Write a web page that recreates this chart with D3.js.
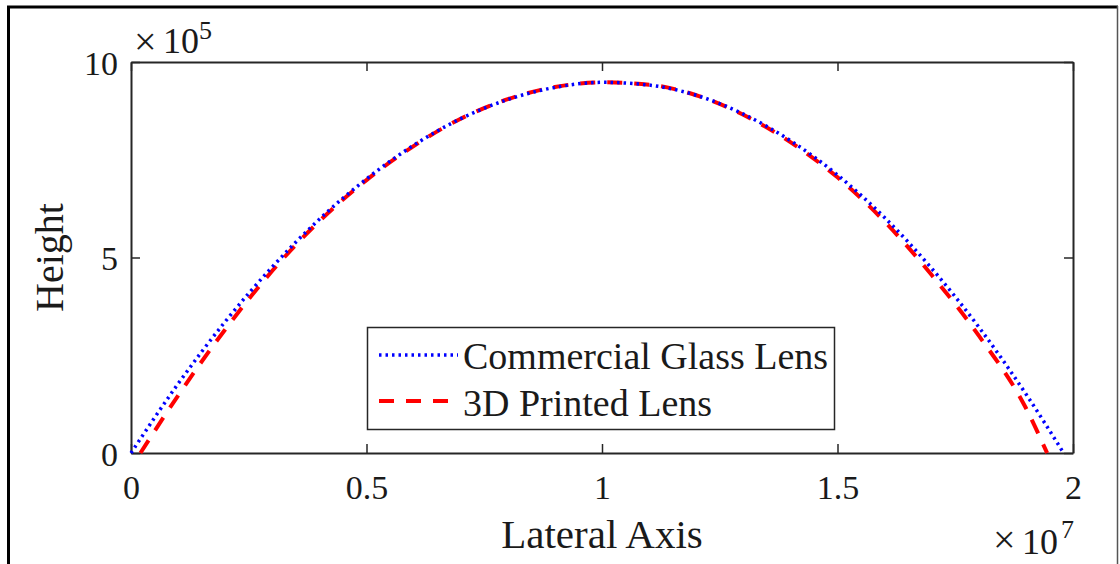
<!DOCTYPE html>
<html><head><meta charset="utf-8">
<script src="https://cdn.jsdelivr.net/npm/d3@7"></script>
<style>html,body{margin:0;padding:0;background:#fff;} svg{display:block;font-family:"Liberation Serif","Times New Roman",serif;}</style>
</head><body>
<svg id="c" width="1120" height="564"></svg>
<script>
// x in units of 1e7, y in units of 1e5
const glassX = [0, 0.1, 0.2, 0.3, 0.4, 0.5, 0.6, 0.7, 0.8, 0.9, 1.0, 1.1, 1.2, 1.3, 1.4, 1.5, 1.6, 1.7, 1.8, 1.9, 1.98];
const glassY = [0, 1.77, 3.36, 4.76, 5.98, 7.01, 7.87, 8.55, 9.04, 9.35, 9.48, 9.41, 9.15, 8.67, 7.99, 7.11, 6.02, 4.72, 3.22, 1.51, 0];
const printedX = [0.02, 0.1, 0.2, 0.3, 0.4, 0.5, 0.6, 0.7, 0.8, 0.9, 1.0, 1.1, 1.2, 1.3, 1.4, 1.5, 1.6, 1.7, 1.8, 1.9, 1.945];
const printedY = [0, 1.47, 3.16, 4.66, 5.93, 6.98, 7.85, 8.55, 9.05, 9.36, 9.48, 9.42, 9.15, 8.65, 7.95, 7.05, 5.92, 4.55, 3.0, 1.15, 0];
const xTicks = [0, 0.5, 1, 1.5, 2];
const yTicks = [0, 5, 10];
const seriesNames = ["Commercial Glass Lens", "3D Printed Lens"];
const xLabel = "Lateral Axis", yLabel = "Height";

const svg = d3.select("#c");
const L = 131, R = 1073, T = 62, B = 453;
const x = d3.scaleLinear().domain([0, 2]).range([L, R]);
const y = d3.scaleLinear().domain([0, 10]).range([B, T]);
const axisCol = "#262626", txtCol = "#1a1a1a";
const fs = 34;

// outer frame
svg.append("line").attr("x1",8.5).attr("x2",8.5).attr("y1",6).attr("y2",564).attr("stroke","#000").attr("stroke-width",3);
svg.append("line").attr("x1",7).attr("x2",1118).attr("y1",7).attr("y2",7).attr("stroke","#000").attr("stroke-width",3);
svg.append("line").attr("x1",1117.5).attr("x2",1117.5).attr("y1",6).attr("y2",564).attr("stroke","#555").attr("stroke-width",1.5);

const fmt = d => String(d);
// axes
const gx = svg.append("g").attr("transform",`translate(0,${B})`)
  .call(d3.axisBottom(x).tickValues(xTicks).tickFormat(fmt).tickSizeInner(-9).tickSizeOuter(0).tickPadding(22));
const gxt = svg.append("g").attr("transform",`translate(0,${T})`)
  .call(d3.axisTop(x).tickValues(xTicks).tickFormat("").tickSizeInner(-9).tickSizeOuter(0));
const gy = svg.append("g").attr("transform",`translate(${L},0)`)
  .call(d3.axisLeft(y).tickValues(yTicks).tickFormat(fmt).tickSizeInner(-9).tickSizeOuter(0).tickPadding(13));
const gyr = svg.append("g").attr("transform",`translate(${R},0)`)
  .call(d3.axisRight(y).tickValues(yTicks).tickFormat("").tickSizeInner(-9).tickSizeOuter(0));
[gx,gxt,gy,gyr].forEach(g=>{
  g.selectAll("path").attr("stroke",axisCol).attr("stroke-width",2);
  g.selectAll("line").attr("stroke",axisCol).attr("stroke-width",1.5);
  g.selectAll("text").attr("font-family","Liberation Serif").attr("font-size",fs).attr("fill",txtCol);
});
gy.selectAll("text").attr("dy","0.36em");

// curves
const line = d3.line().x(d=>x(d[0])).y(d=>y(d[1])).curve(d3.curveMonotoneX);
const glass = glassX.map((v,i)=>[v,glassY[i]]);
const printed = printedX.map((v,i)=>[v,printedY[i]]);
svg.append("path").datum(printed).attr("d",line).attr("fill","none").attr("stroke","#ff0000")
  .attr("stroke-width",4).attr("stroke-dasharray","15 12");
svg.append("path").datum(glass).attr("d",line).attr("fill","none").attr("stroke","#0000ff")
  .attr("stroke-width",3.5).attr("stroke-dasharray","2.5 4");

// exponent labels
function expLabel(xTimes, yTimes, xTen, xSup, yBase, ySupBase, sup){
  svg.append("text").attr("x",xTimes).attr("y",yTimes).attr("font-size",40).attr("fill",txtCol).text("\u00d7");
  svg.append("text").attr("x",xTen).attr("y",yBase).attr("font-size",36).attr("fill",txtCol).text("10");
  svg.append("text").attr("x",xSup).attr("y",ySupBase).attr("font-size",26).attr("fill",txtCol).text(sup);
}
expLabel(134, 55, 163, 199, 53, 39, "5");
expLabel(993, 553, 1022, 1061, 554, 538, "7");

// axis labels
svg.append("text").attr("x",(L+R)/2).attr("y",548).attr("text-anchor","middle").attr("font-size",41).attr("fill",txtCol).text(xLabel);
svg.append("text").attr("transform",`translate(63,${(T+B)/2}) rotate(-90)`).attr("text-anchor","middle").attr("font-size",40).attr("fill",txtCol).text(yLabel);

// legend
const lg = svg.append("g");
lg.append("rect").attr("x",367.5).attr("y",327.5).attr("width",467).attr("height",102).attr("fill","#fff").attr("stroke",axisCol).attr("stroke-width",1.5);
const rows = [{n:seriesNames[0],c:"#0000ff",w:3.5,d:"2.5 4",yy:355,tb:369},{n:seriesNames[1],c:"#ff0000",w:4,d:"15 12",yy:401,tb:416}];
rows.forEach(r=>{
  lg.append("line").attr("x1",379).attr("x2",458).attr("y1",r.yy).attr("y2",r.yy).attr("stroke",r.c).attr("stroke-width",r.w).attr("stroke-dasharray",r.d);
  lg.append("text").attr("x",463).attr("y",r.tb).attr("font-size",38).attr("fill",txtCol).text(r.n);
});
</script>
</body></html>
